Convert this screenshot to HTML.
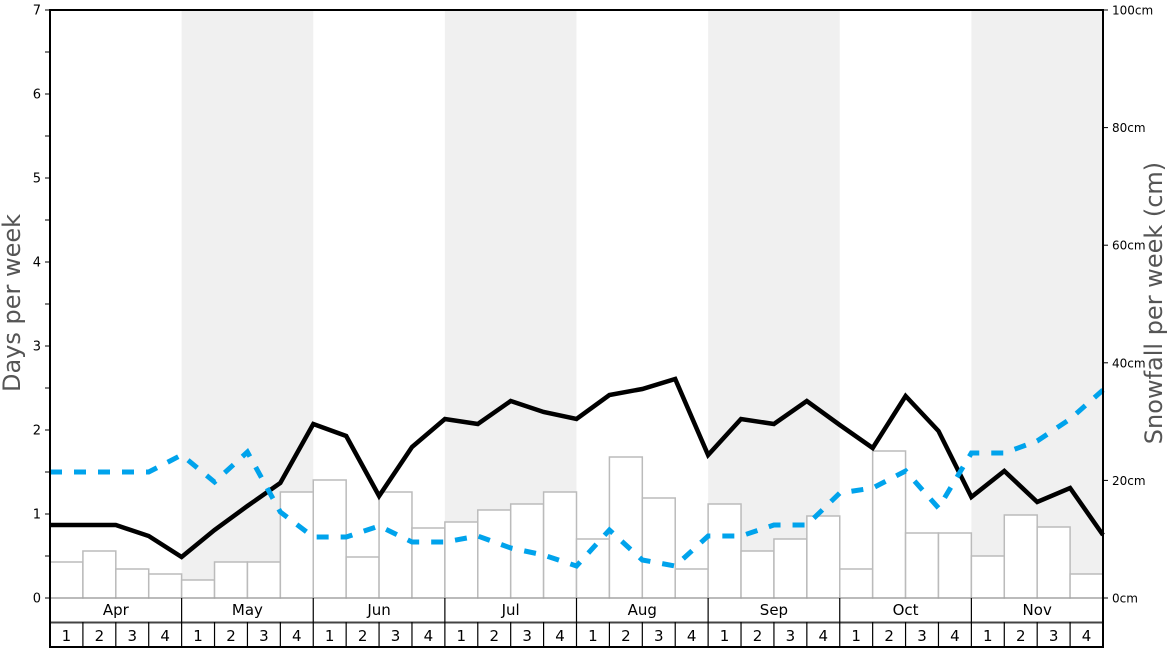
<!DOCTYPE html>
<html><head><meta charset="utf-8"><style>
html,body{margin:0;padding:0;background:#fff;}
svg{display:block;font-family:"DejaVu Sans","Liberation Sans",sans-serif;}
</style></head><body>
<svg width="1168" height="648" viewBox="0 0 1168 648" xmlns="http://www.w3.org/2000/svg">
<g id="shade" fill="#f0f0f0"></g>
<g id="bars" fill="#fff" stroke="#bbb" stroke-width="1.5"></g>
<polyline id="blk" fill="none" stroke="#000" stroke-width="4.5" stroke-linejoin="miter"></polyline>
<polyline id="blu" fill="none" stroke="#00a3ec" stroke-width="5" stroke-dasharray="12,12"></polyline>
<g id="axes"></g>
<text x="0" y="0" font-size="24" fill="#555" text-anchor="middle" transform="translate(20,303) rotate(-90)">Days per week</text>
<text x="0" y="0" font-size="24" fill="#555" text-anchor="middle" transform="translate(1162,303) rotate(-90)">Snowfall per week (cm)</text>
</svg>
<script>
(function(){
var NS="http://www.w3.org/2000/svg";
var X0=50,X1=1103,W=(X1-X0)/32;
function x(i){return X0+i*W;}
function el(tag,attrs,parent,txt){var e=document.createElementNS(NS,tag);for(var k in attrs)e.setAttribute(k,attrs[k]);if(txt!==undefined)e.textContent=txt;parent.appendChild(e);return e;}
var shade=document.getElementById('shade');
[1,3,5,7].forEach(function(m){el('rect',{x:x(m*4),y:10,width:W*4,height:588},shade);});
var bars=[562,551,569,574,580,562,562,492,480,557,492,528,522,510,504,492,539,457,498,569,504,551,539,516,569,451,533,533,556,515,527,574];
var bg=document.getElementById('bars');
bars.forEach(function(t,i){el('rect',{x:x(i),y:t,width:W,height:598-t},bg);});
var blk=[525,525,525,536,557,530,506,483,424,436,496,447,419,424,401,412,419,395,389,379,455,419,424,401,425,448,396,431,497,471,502,488,535];
var blu=[472,472,472,472,455,482,452,512,537,537,526,542,542,536,548,555,566,530,560,566,536,536,525,525,493,488,471,508,453,453,441,419,390];
document.getElementById('blk').setAttribute('points',blk.map(function(v,i){return x(i).toFixed(1)+','+v;}).join(' '));
document.getElementById('blu').setAttribute('points',blu.map(function(v,i){return x(i).toFixed(1)+','+v;}).join(' '));
var ax=document.getElementById('axes');
// bottom table
el('line',{x1:X0,y1:598,x2:X1,y2:598,stroke:'#999','stroke-width':1},ax);
el('line',{x1:X0,y1:622.5,x2:X1,y2:622.5,stroke:'#444','stroke-width':2},ax);
el('line',{x1:X0,y1:647,x2:X1,y2:647,stroke:'#000','stroke-width':2},ax);
var months=['Apr','May','Jun','Jul','Aug','Sep','Oct','Nov'];
for(var m=0;m<8;m++){
  if(m>0)el('line',{x1:x(m*4),y1:598,x2:x(m*4),y2:647,stroke:'#000','stroke-width':1.2},ax);
  el('text',{x:x(m*4)+W*2,y:615,'font-size':15,'text-anchor':'middle',fill:'#000'},ax,months[m]);
  for(var w=0;w<4;w++){
    var i=m*4+w;
    if(w>0)el('line',{x1:x(i),y1:622,x2:x(i),y2:647,stroke:'#000','stroke-width':1.2},ax);
    el('text',{x:x(i)+W/2,y:641,'font-size':15,'text-anchor':'middle',fill:'#000'},ax,String(w+1));
  }
}
// frame
el('line',{x1:X0-1,y1:10,x2:X1+1,y2:10,stroke:'#000','stroke-width':2},ax);
el('line',{x1:X0,y1:9,x2:X0,y2:648,stroke:'#000','stroke-width':2},ax);
el('line',{x1:X1,y1:9,x2:X1,y2:648,stroke:'#000','stroke-width':2},ax);
// left ticks
for(var k=0;k<=14;k++){
  var y=598-k*42;
  el('line',{x1:45,y1:y,x2:50,y2:y,stroke:'#000','stroke-width':1},ax);
  if(k%2==0)el('text',{x:41,y:y+4.5,'font-size':13,'text-anchor':'end',fill:'#000'},ax,String(k/2));
}
// right ticks
for(var c=0;c<=5;c++){
  var y2=598-c*117.6;
  el('line',{x1:1103,y1:y2,x2:1108,y2:y2,stroke:'#000','stroke-width':1},ax);
  el('text',{x:1112,y:y2+4.5,'font-size':12,fill:'#000'},ax,(c*20)+'cm');
}
})();
</script>
</body></html>
